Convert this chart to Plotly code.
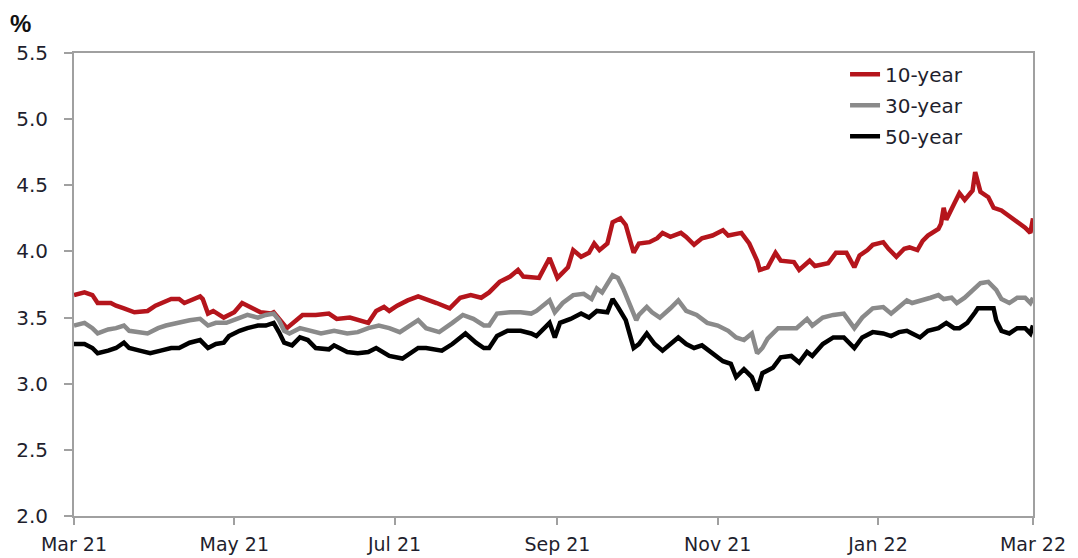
import plotly.graph_objects as go

# 10-year yield (%)
dates_10y = [
    "2021-03-01", "2021-03-05", "2021-03-08", "2021-03-10", "2021-03-15", "2021-03-17", "2021-03-20",
    "2021-03-24", "2021-03-29", "2021-04-01", "2021-04-07", "2021-04-10", "2021-04-12", "2021-04-18",
    "2021-04-19", "2021-04-21", "2021-04-23", "2021-04-27", "2021-05-01", "2021-05-04", "2021-05-07",
    "2021-05-11", "2021-05-15", "2021-05-16", "2021-05-21", "2021-05-25", "2021-05-27", "2021-06-01",
    "2021-06-06", "2021-06-09", "2021-06-14", "2021-06-21", "2021-06-24", "2021-06-27", "2021-06-29",
    "2021-07-02", "2021-07-06", "2021-07-10", "2021-07-13", "2021-07-17", "2021-07-22", "2021-07-26",
    "2021-07-30", "2021-08-03", "2021-08-06", "2021-08-10", "2021-08-14", "2021-08-17", "2021-08-19",
    "2021-08-23", "2021-08-25", "2021-08-29", "2021-09-01", "2021-09-05", "2021-09-07", "2021-09-10",
    "2021-09-13", "2021-09-15", "2021-09-17", "2021-09-20", "2021-09-22", "2021-09-25", "2021-09-27",
    "2021-09-29", "2021-09-30", "2021-10-02", "2021-10-06", "2021-10-09", "2021-10-11", "2021-10-14",
    "2021-10-18", "2021-10-20", "2021-10-23", "2021-10-26", "2021-10-30", "2021-11-03", "2021-11-05",
    "2021-11-10", "2021-11-13", "2021-11-16", "2021-11-17", "2021-11-20", "2021-11-23", "2021-11-25",
    "2021-11-30", "2021-12-02", "2021-12-06", "2021-12-08", "2021-12-13", "2021-12-16", "2021-12-20",
    "2021-12-23", "2021-12-25", "2021-12-28", "2021-12-30", "2022-01-03", "2022-01-05", "2022-01-08",
    "2022-01-11", "2022-01-13", "2022-01-16", "2022-01-18", "2022-01-20", "2022-01-24", "2022-01-25",
    "2022-01-26", "2022-01-27", "2022-01-30", "2022-02-01", "2022-02-03", "2022-02-06", "2022-02-07",
    "2022-02-09", "2022-02-12", "2022-02-14", "2022-02-17", "2022-02-20", "2022-02-24", "2022-02-26",
    "2022-02-28", "2022-03-01",
]
yield_10y = [
    3.67, 3.69, 3.67, 3.61, 3.61, 3.59, 3.57,
    3.54, 3.55, 3.59, 3.64, 3.64, 3.61, 3.66,
    3.64, 3.53, 3.55, 3.50, 3.54, 3.61, 3.58,
    3.54, 3.53, 3.54, 3.42, 3.48, 3.52, 3.52,
    3.53, 3.49, 3.50, 3.46, 3.55, 3.58, 3.55,
    3.59, 3.63, 3.66, 3.64, 3.61, 3.57, 3.65,
    3.67, 3.65, 3.69, 3.77, 3.81, 3.86, 3.81,
    3.80, 3.80, 3.95, 3.80, 3.88, 4.01, 3.96,
    3.99, 4.06, 4.01, 4.06, 4.22, 4.25, 4.20,
    4.06, 3.99, 4.06, 4.07, 4.10, 4.14, 4.11,
    4.14, 4.11, 4.05, 4.10, 4.12, 4.16, 4.12,
    4.14, 4.06, 3.93, 3.86, 3.88, 3.99, 3.93,
    3.92, 3.86, 3.93, 3.89, 3.91, 3.99, 3.99,
    3.88, 3.97, 4.01, 4.05, 4.07, 4.02, 3.96,
    4.02, 4.03, 4.01, 4.08, 4.12, 4.17, 4.21,
    4.33, 4.24, 4.36, 4.44, 4.39, 4.46, 4.60,
    4.45, 4.41, 4.33, 4.31, 4.27, 4.21, 4.18,
    4.14, 4.25,
]

# 30-year yield (%)
dates_30y = [
    "2021-03-01", "2021-03-05", "2021-03-08", "2021-03-10", "2021-03-14", "2021-03-17", "2021-03-20",
    "2021-03-22", "2021-03-29", "2021-04-02", "2021-04-05", "2021-04-09", "2021-04-14", "2021-04-18",
    "2021-04-21", "2021-04-24", "2021-04-28", "2021-05-02", "2021-05-06", "2021-05-10", "2021-05-13",
    "2021-05-16", "2021-05-18", "2021-05-20", "2021-05-22", "2021-05-26", "2021-05-30", "2021-06-03",
    "2021-06-08", "2021-06-13", "2021-06-17", "2021-06-21", "2021-06-25", "2021-06-29", "2021-07-03",
    "2021-07-10", "2021-07-13", "2021-07-18", "2021-07-23", "2021-07-27", "2021-07-31", "2021-08-04",
    "2021-08-06", "2021-08-09", "2021-08-14", "2021-08-18", "2021-08-22", "2021-08-24", "2021-08-29",
    "2021-08-31", "2021-09-03", "2021-09-07", "2021-09-11", "2021-09-14", "2021-09-16", "2021-09-18",
    "2021-09-22", "2021-09-24", "2021-09-26", "2021-09-29", "2021-10-01", "2021-10-02", "2021-10-05",
    "2021-10-07", "2021-10-10", "2021-10-14", "2021-10-17", "2021-10-20", "2021-10-24", "2021-10-28",
    "2021-11-01", "2021-11-05", "2021-11-08", "2021-11-11", "2021-11-14", "2021-11-16", "2021-11-18",
    "2021-11-20", "2021-11-24", "2021-11-27", "2021-12-01", "2021-12-05", "2021-12-07", "2021-12-11",
    "2021-12-15", "2021-12-19", "2021-12-20", "2021-12-23", "2021-12-26", "2021-12-30", "2022-01-03",
    "2022-01-06", "2022-01-09", "2022-01-12", "2022-01-14", "2022-01-18", "2022-01-21", "2022-01-24",
    "2022-01-26", "2022-01-29", "2022-01-31", "2022-02-03", "2022-02-07", "2022-02-09", "2022-02-12",
    "2022-02-15", "2022-02-17", "2022-02-20", "2022-02-23", "2022-02-26", "2022-02-28", "2022-03-01",
]
yield_30y = [
    3.44, 3.46, 3.42, 3.38, 3.41, 3.42, 3.44,
    3.40, 3.38, 3.42, 3.44, 3.46, 3.48, 3.49,
    3.44, 3.46, 3.46, 3.49, 3.52, 3.50, 3.52,
    3.53, 3.48, 3.40, 3.38, 3.42, 3.40, 3.38,
    3.40, 3.38, 3.39, 3.42, 3.44, 3.42, 3.39,
    3.48, 3.42, 3.39, 3.46, 3.52, 3.49, 3.44,
    3.44, 3.53, 3.54, 3.54, 3.53, 3.55, 3.63,
    3.54, 3.61, 3.67, 3.68, 3.64, 3.72, 3.69,
    3.82, 3.80, 3.72, 3.58, 3.48, 3.52, 3.58,
    3.54, 3.50, 3.57, 3.63, 3.55, 3.52, 3.46,
    3.44, 3.40, 3.35, 3.33, 3.38, 3.23, 3.27,
    3.34, 3.42, 3.42, 3.42, 3.49, 3.44, 3.50,
    3.52, 3.53, 3.50, 3.42, 3.50, 3.57, 3.58,
    3.53, 3.58, 3.63, 3.61, 3.63, 3.65, 3.67,
    3.64, 3.65, 3.61, 3.65, 3.72, 3.76, 3.77,
    3.71, 3.64, 3.61, 3.65, 3.65, 3.61, 3.65,
]

# 50-year yield (%)
dates_50y = [
    "2021-03-01", "2021-03-05", "2021-03-08", "2021-03-10", "2021-03-14", "2021-03-17", "2021-03-20",
    "2021-03-22", "2021-03-26", "2021-03-30", "2021-04-03", "2021-04-07", "2021-04-10", "2021-04-14",
    "2021-04-18", "2021-04-21", "2021-04-24", "2021-04-27", "2021-04-29", "2021-05-03", "2021-05-06",
    "2021-05-10", "2021-05-13", "2021-05-16", "2021-05-18", "2021-05-20", "2021-05-23", "2021-05-26",
    "2021-05-29", "2021-06-01", "2021-06-06", "2021-06-08", "2021-06-13", "2021-06-17", "2021-06-21",
    "2021-06-24", "2021-06-29", "2021-07-04", "2021-07-10", "2021-07-13", "2021-07-19", "2021-07-23",
    "2021-07-28", "2021-08-01", "2021-08-04", "2021-08-06", "2021-08-09", "2021-08-13", "2021-08-18",
    "2021-08-22", "2021-08-24", "2021-08-29", "2021-08-31", "2021-09-02", "2021-09-06", "2021-09-10",
    "2021-09-13", "2021-09-16", "2021-09-20", "2021-09-22", "2021-09-24", "2021-09-27", "2021-09-30",
    "2021-10-02", "2021-10-05", "2021-10-08", "2021-10-11", "2021-10-14", "2021-10-17", "2021-10-20",
    "2021-10-23", "2021-10-26", "2021-10-30", "2021-11-03", "2021-11-06", "2021-11-08", "2021-11-11",
    "2021-11-14", "2021-11-16", "2021-11-18", "2021-11-22", "2021-11-25", "2021-11-29", "2021-12-02",
    "2021-12-05", "2021-12-07", "2021-12-11", "2021-12-15", "2021-12-19", "2021-12-21", "2021-12-23",
    "2021-12-26", "2021-12-30", "2022-01-03", "2022-01-06", "2022-01-09", "2022-01-12", "2022-01-14",
    "2022-01-17", "2022-01-20", "2022-01-24", "2022-01-27", "2022-01-30", "2022-02-01", "2022-02-04",
    "2022-02-07", "2022-02-08", "2022-02-12", "2022-02-14", "2022-02-15", "2022-02-17", "2022-02-20",
    "2022-02-23", "2022-02-26", "2022-02-28", "2022-03-01",
]
yield_50y = [
    3.30, 3.30, 3.27, 3.23, 3.25, 3.27, 3.31,
    3.27, 3.25, 3.23, 3.25, 3.27, 3.27, 3.31,
    3.33, 3.27, 3.30, 3.31, 3.36, 3.40, 3.42,
    3.44, 3.44, 3.46, 3.39, 3.31, 3.29, 3.35,
    3.33, 3.27, 3.26, 3.29, 3.24, 3.23, 3.24,
    3.27, 3.21, 3.19, 3.27, 3.27, 3.25, 3.30,
    3.38, 3.31, 3.27, 3.27, 3.36, 3.40, 3.40,
    3.38, 3.36, 3.46, 3.35, 3.46, 3.49, 3.53,
    3.50, 3.55, 3.54, 3.64, 3.58, 3.48, 3.27,
    3.30, 3.38, 3.30, 3.25, 3.30, 3.35, 3.30,
    3.27, 3.29, 3.23, 3.17, 3.15, 3.05, 3.11,
    3.05, 2.95, 3.08, 3.12, 3.20, 3.21, 3.16,
    3.24, 3.21, 3.30, 3.35, 3.35, 3.31, 3.27,
    3.35, 3.39, 3.38, 3.36, 3.39, 3.40, 3.38,
    3.35, 3.40, 3.42, 3.46, 3.42, 3.42, 3.46,
    3.54, 3.57, 3.57, 3.57, 3.48, 3.40, 3.38,
    3.42, 3.42, 3.38, 3.44,
]

series = [
    ("10-year", dates_10y, yield_10y, "#b5151c"),
    ("30-year", dates_30y, yield_30y, "#8a8a8a"),
    ("50-year", dates_50y, yield_50y, "#000000"),
]

fig = go.Figure()
for i, (name, x, y, color) in enumerate(series):
    fig.add_trace(go.Scatter(x=x, y=y, mode="lines", name=name, legendgroup=str(i),
                             line=dict(color=color, width=4.5)))

axis_font = dict(family="Verdana, DejaVu Sans, sans-serif", size=20, color="#1f1f2e")
xaxis_font = dict(family="Verdana, DejaVu Sans, sans-serif", size=19, color="#1f1f2e")

# the page body adds 8px, so margins are shifted to land the plot where the original sits
fig.update_layout(
    width=1078, height=558,
    margin=dict(l=66, r=53, t=45, b=50),
    paper_bgcolor="white", plot_bgcolor="white",
    showlegend=True,
    legend=dict(x=0.804, y=0.996, xanchor="left", yanchor="top",
                font=dict(family="Verdana, DejaVu Sans, sans-serif", size=20, color="#1f1f2e"),
                traceorder="grouped", tracegroupgap=2, bgcolor="rgba(0,0,0,0)"),
    xaxis=dict(range=["2021-03-01", "2022-03-01"], tickformat="%b %y", dtick="M2",
               tick0="2021-03-01", ticks="outside", ticklen=7, tickcolor="#a0a0a0", tickwidth=2,
               showline=True, linecolor="#a0a0a0", linewidth=2, mirror=True, automargin=False,
               showgrid=False, zeroline=False, tickfont=xaxis_font, ticklabelstandoff=3),
    yaxis=dict(range=[2.0, 5.5], dtick=0.5, tickformat=".1f", ticks="outside", ticklen=8,
               tickcolor="#a0a0a0", tickwidth=2, showline=True, linecolor="#a0a0a0",
               linewidth=2, mirror=True, showgrid=False, zeroline=False, automargin=False,
               tickfont=axis_font, ticklabelstandoff=12),
    annotations=[dict(text="<b>%</b>", x=-(66 - 12) / 959, y=1 + 45 / 463,
                      xref="paper", yref="paper", xanchor="center", yanchor="top",
                      showarrow=False,
                      font=dict(family="Liberation Sans Narrow, Liberation Sans, Arial",
                                size=24, color="#111111"))],
)

fig.write_html("out.html")
